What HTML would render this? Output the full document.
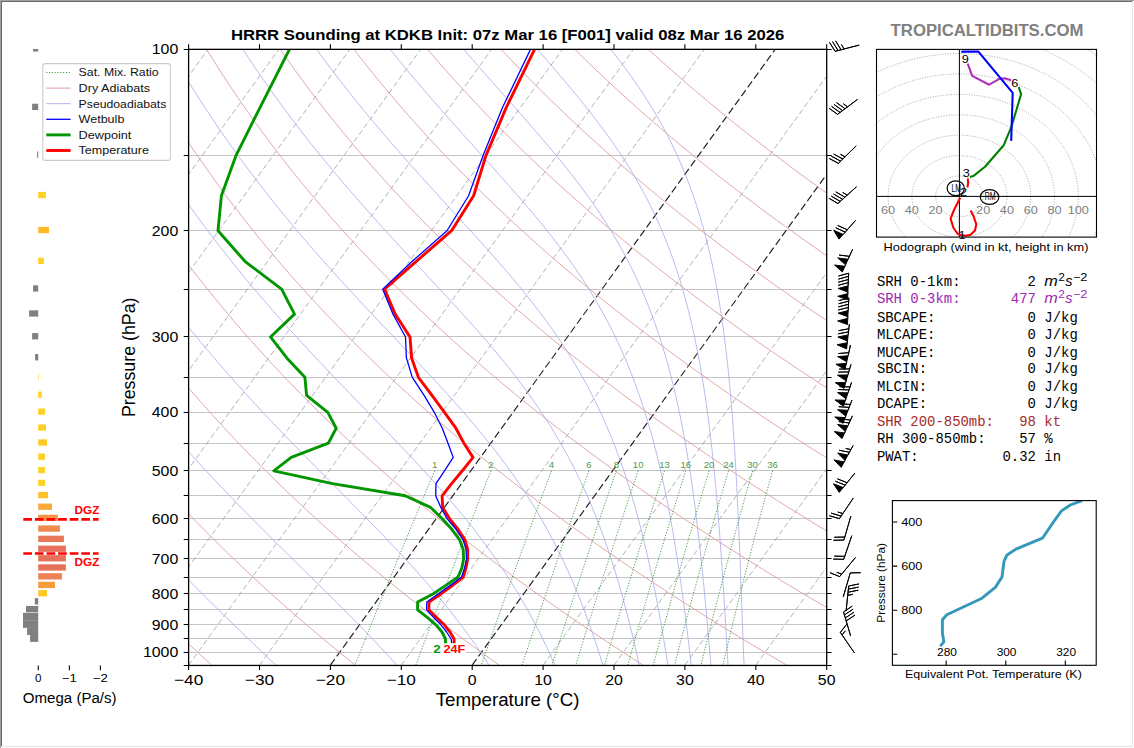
<!DOCTYPE html>
<html><head><meta charset="utf-8"><title>HRRR Sounding</title>
<style>html,body{margin:0;padding:0;background:#fff;}body{width:1134px;height:748px;overflow:hidden;}svg{display:block;}</style>
</head><body>
<svg width="1134" height="748" viewBox="0 0 1134 748">
<rect x="0" y="0" width="1134" height="748" fill="#fff"/>
<defs>
<clipPath id="cmain"><rect x="188.6" y="49.1" width="638.1" height="616.1"/></clipPath>
</defs>
<g clip-path="url(#cmain)">
<line x1="188.6" y1="155.50" x2="826.7" y2="155.50" stroke="#c4c4c4" stroke-width="1.0"/>
<line x1="188.6" y1="230.50" x2="826.7" y2="230.50" stroke="#c4c4c4" stroke-width="1.0"/>
<line x1="188.6" y1="289.50" x2="826.7" y2="289.50" stroke="#c4c4c4" stroke-width="1.0"/>
<line x1="188.6" y1="336.50" x2="826.7" y2="336.50" stroke="#c4c4c4" stroke-width="1.0"/>
<line x1="188.6" y1="377.50" x2="826.7" y2="377.50" stroke="#c4c4c4" stroke-width="1.0"/>
<line x1="188.6" y1="412.50" x2="826.7" y2="412.50" stroke="#c4c4c4" stroke-width="1.0"/>
<line x1="188.6" y1="443.50" x2="826.7" y2="443.50" stroke="#c4c4c4" stroke-width="1.0"/>
<line x1="188.6" y1="470.50" x2="826.7" y2="470.50" stroke="#c4c4c4" stroke-width="1.0"/>
<line x1="188.6" y1="495.50" x2="826.7" y2="495.50" stroke="#c4c4c4" stroke-width="1.0"/>
<line x1="188.6" y1="518.50" x2="826.7" y2="518.50" stroke="#c4c4c4" stroke-width="1.0"/>
<line x1="188.6" y1="539.50" x2="826.7" y2="539.50" stroke="#c4c4c4" stroke-width="1.0"/>
<line x1="188.6" y1="558.50" x2="826.7" y2="558.50" stroke="#c4c4c4" stroke-width="1.0"/>
<line x1="188.6" y1="577.50" x2="826.7" y2="577.50" stroke="#c4c4c4" stroke-width="1.0"/>
<line x1="188.6" y1="593.50" x2="826.7" y2="593.50" stroke="#c4c4c4" stroke-width="1.0"/>
<line x1="188.6" y1="609.50" x2="826.7" y2="609.50" stroke="#c4c4c4" stroke-width="1.0"/>
<line x1="188.6" y1="624.50" x2="826.7" y2="624.50" stroke="#c4c4c4" stroke-width="1.0"/>
<line x1="188.6" y1="638.50" x2="826.7" y2="638.50" stroke="#c4c4c4" stroke-width="1.0"/>
<line x1="188.6" y1="652.50" x2="826.7" y2="652.50" stroke="#c4c4c4" stroke-width="1.0"/>
<line x1="-591.30" y1="665.2" x2="-146.35" y2="49.1" stroke="#999999" stroke-width="0.75" stroke-dasharray="5.5 3"/>
<line x1="-520.40" y1="665.2" x2="-75.45" y2="49.1" stroke="#999999" stroke-width="0.75" stroke-dasharray="5.5 3"/>
<line x1="-449.50" y1="665.2" x2="-4.55" y2="49.1" stroke="#999999" stroke-width="0.75" stroke-dasharray="5.5 3"/>
<line x1="-378.60" y1="665.2" x2="66.35" y2="49.1" stroke="#999999" stroke-width="0.75" stroke-dasharray="5.5 3"/>
<line x1="-307.70" y1="665.2" x2="137.25" y2="49.1" stroke="#999999" stroke-width="0.75" stroke-dasharray="5.5 3"/>
<line x1="-236.80" y1="665.2" x2="208.15" y2="49.1" stroke="#999999" stroke-width="0.75" stroke-dasharray="5.5 3"/>
<line x1="-165.90" y1="665.2" x2="279.05" y2="49.1" stroke="#999999" stroke-width="0.75" stroke-dasharray="5.5 3"/>
<line x1="-95.00" y1="665.2" x2="349.95" y2="49.1" stroke="#999999" stroke-width="0.75" stroke-dasharray="5.5 3"/>
<line x1="-24.10" y1="665.2" x2="420.85" y2="49.1" stroke="#999999" stroke-width="0.75" stroke-dasharray="5.5 3"/>
<line x1="46.80" y1="665.2" x2="491.75" y2="49.1" stroke="#999999" stroke-width="0.75" stroke-dasharray="5.5 3"/>
<line x1="117.70" y1="665.2" x2="562.65" y2="49.1" stroke="#999999" stroke-width="0.75" stroke-dasharray="5.5 3"/>
<line x1="188.60" y1="665.2" x2="633.55" y2="49.1" stroke="#999999" stroke-width="0.75" stroke-dasharray="5.5 3"/>
<line x1="259.50" y1="665.2" x2="704.45" y2="49.1" stroke="#999999" stroke-width="0.75" stroke-dasharray="5.5 3"/>
<line x1="330.40" y1="665.2" x2="775.35" y2="49.1" stroke="#202020" stroke-width="1.15" stroke-dasharray="7.4 3.4"/>
<line x1="401.30" y1="665.2" x2="846.25" y2="49.1" stroke="#999999" stroke-width="0.75" stroke-dasharray="5.5 3"/>
<line x1="472.20" y1="665.2" x2="917.15" y2="49.1" stroke="#202020" stroke-width="1.15" stroke-dasharray="7.4 3.4"/>
<line x1="543.10" y1="665.2" x2="988.05" y2="49.1" stroke="#999999" stroke-width="0.75" stroke-dasharray="5.5 3"/>
<line x1="614.00" y1="665.2" x2="1058.95" y2="49.1" stroke="#999999" stroke-width="0.75" stroke-dasharray="5.5 3"/>
<line x1="684.90" y1="665.2" x2="1129.85" y2="49.1" stroke="#999999" stroke-width="0.75" stroke-dasharray="5.5 3"/>
<line x1="755.80" y1="665.2" x2="1200.75" y2="49.1" stroke="#999999" stroke-width="0.75" stroke-dasharray="5.5 3"/>
<line x1="826.70" y1="665.2" x2="1271.65" y2="49.1" stroke="#999999" stroke-width="0.75" stroke-dasharray="5.5 3"/>
<path d="M-161.50,49.10 L-159.24,59.54 L-156.88,69.98 L-154.40,80.43 L-151.81,90.87 L-149.10,101.31 L-146.28,111.75 L-143.34,122.20 L-140.27,132.64 L-137.09,143.08 L-133.79,153.52 L-130.36,163.97 L-126.80,174.41 L-123.12,184.85 L-119.31,195.29 L-115.37,205.74 L-111.30,216.18 L-107.10,226.62 L-102.76,237.06 L-98.29,247.51 L-93.68,257.95 L-88.93,268.39 L-84.04,278.83 L-79.01,289.27 L-73.84,299.72 L-68.52,310.16 L-63.05,320.60 L-57.44,331.04 L-51.67,341.49 L-45.76,351.93 L-39.68,362.37 L-33.46,372.81 L-27.08,383.26 L-20.54,393.70 L-13.83,404.14 L-6.97,414.58 L0.06,425.03 L7.26,435.47 L14.62,445.91 L22.16,456.35 L29.86,466.79 L37.74,477.24 L45.80,487.68 L54.03,498.12 L62.45,508.56 L71.04,519.01 L79.83,529.45 L88.79,539.89 L97.95,550.33 L107.29,560.78 L116.83,571.22 L126.57,581.66 L136.50,592.10 L146.63,602.55 L156.96,612.99 L167.50,623.43 L178.24,633.87 L189.19,644.32 L200.35,654.76 L211.73,665.20" fill="none" stroke="#dc9a9a" stroke-width="0.85"/>
<path d="M-87.90,49.10 L-84.80,59.54 L-81.59,69.98 L-78.25,80.43 L-74.79,90.87 L-71.21,101.31 L-67.49,111.75 L-63.65,122.20 L-59.68,132.64 L-55.58,143.08 L-51.34,153.52 L-46.97,163.97 L-42.46,174.41 L-37.82,184.85 L-33.03,195.29 L-28.11,205.74 L-23.04,216.18 L-17.83,226.62 L-12.48,237.06 L-6.97,247.51 L-1.32,257.95 L4.48,268.39 L10.44,278.83 L16.54,289.27 L22.81,299.72 L29.23,310.16 L35.81,320.60 L42.56,331.04 L49.46,341.49 L56.53,351.93 L63.77,362.37 L71.18,372.81 L78.76,383.26 L86.51,393.70 L94.43,404.14 L102.53,414.58 L110.81,425.03 L119.27,435.47 L127.91,445.91 L136.74,456.35 L145.75,466.79 L154.96,477.24 L164.35,487.68 L173.94,498.12 L183.72,508.56 L193.70,519.01 L203.88,529.45 L214.27,539.89 L224.86,550.33 L235.65,560.78 L246.65,571.22 L257.87,581.66 L269.30,592.10 L280.95,602.55 L292.81,612.99 L304.90,623.43 L317.21,633.87 L329.75,644.32 L342.52,654.76 L355.51,665.20" fill="none" stroke="#dc9a9a" stroke-width="0.85"/>
<path d="M-14.30,49.10 L-10.36,59.54 L-6.30,69.98 L-2.11,80.43 L2.23,90.87 L6.69,101.31 L11.29,111.75 L16.04,122.20 L20.92,132.64 L25.94,143.08 L31.11,153.52 L36.42,163.97 L41.88,174.41 L47.48,184.85 L53.24,195.29 L59.15,205.74 L65.21,216.18 L71.43,226.62 L77.81,237.06 L84.34,247.51 L91.03,257.95 L97.89,268.39 L104.91,278.83 L112.10,289.27 L119.46,299.72 L126.98,310.16 L134.68,320.60 L142.55,331.04 L150.60,341.49 L158.82,351.93 L167.23,362.37 L175.82,372.81 L184.59,383.26 L193.55,393.70 L202.69,404.14 L212.03,414.58 L221.56,425.03 L231.28,435.47 L241.20,445.91 L251.32,456.35 L261.65,466.79 L272.17,477.24 L282.90,487.68 L293.84,498.12 L305.00,508.56 L316.36,519.01 L327.94,529.45 L339.74,539.89 L351.76,550.33 L364.01,560.78 L376.48,571.22 L389.17,581.66 L402.10,592.10 L415.26,602.55 L428.66,612.99 L442.30,623.43 L456.18,633.87 L470.31,644.32 L484.68,654.76 L499.30,665.20" fill="none" stroke="#dc9a9a" stroke-width="0.85"/>
<path d="M59.30,49.10 L64.07,59.54 L68.99,69.98 L74.04,80.43 L79.24,90.87 L84.59,101.31 L90.08,111.75 L95.72,122.20 L101.51,132.64 L107.46,143.08 L113.55,153.52 L119.81,163.97 L126.22,174.41 L132.79,184.85 L139.52,195.29 L146.41,205.74 L153.47,216.18 L160.69,226.62 L168.09,237.06 L175.65,247.51 L183.39,257.95 L191.30,268.39 L199.39,278.83 L207.65,289.27 L216.10,299.72 L224.73,310.16 L233.54,320.60 L242.54,331.04 L251.73,341.49 L261.11,351.93 L270.68,362.37 L280.45,372.81 L290.42,383.26 L300.59,393.70 L310.95,404.14 L321.53,414.58 L332.30,425.03 L343.29,435.47 L354.49,445.91 L365.91,456.35 L377.54,466.79 L389.39,477.24 L401.46,487.68 L413.75,498.12 L426.27,508.56 L439.02,519.01 L452.00,529.45 L465.22,539.89 L478.67,550.33 L492.36,560.78 L506.30,571.22 L520.48,581.66 L534.90,592.10 L549.58,602.55 L564.51,612.99 L579.70,623.43 L595.15,633.87 L610.86,644.32 L626.84,654.76 L643.08,665.20" fill="none" stroke="#dc9a9a" stroke-width="0.85"/>
<path d="M132.90,49.10 L138.51,59.54 L144.28,69.98 L150.19,80.43 L156.26,90.87 L162.49,101.31 L168.87,111.75 L175.41,122.20 L182.11,132.64 L188.97,143.08 L196.00,153.52 L203.19,163.97 L210.56,174.41 L218.09,184.85 L225.79,195.29 L233.67,205.74 L241.73,216.18 L249.96,226.62 L258.37,237.06 L266.97,247.51 L275.75,257.95 L284.71,268.39 L293.86,278.83 L303.21,289.27 L312.75,299.72 L322.48,310.16 L332.41,320.60 L342.54,331.04 L352.87,341.49 L363.40,351.93 L374.14,362.37 L385.09,372.81 L396.25,383.26 L407.63,393.70 L419.22,404.14 L431.02,414.58 L443.05,425.03 L455.31,435.47 L467.78,445.91 L480.49,456.35 L493.43,466.79 L506.60,477.24 L520.01,487.68 L533.66,498.12 L547.55,508.56 L561.68,519.01 L576.06,529.45 L590.69,539.89 L605.58,550.33 L620.72,560.78 L636.12,571.22 L651.78,581.66 L667.71,592.10 L683.90,602.55 L700.37,612.99 L717.11,623.43 L734.12,633.87 L751.42,644.32 L769.00,654.76 L786.87,665.20" fill="none" stroke="#dc9a9a" stroke-width="0.85"/>
<path d="M206.50,49.10 L212.95,59.54 L219.57,69.98 L226.34,80.43 L233.28,90.87 L240.38,101.31 L247.65,111.75 L255.09,122.20 L262.70,132.64 L270.49,143.08 L278.45,153.52 L286.58,163.97 L294.89,174.41 L303.39,184.85 L312.07,195.29 L320.93,205.74 L329.98,216.18 L339.22,226.62 L348.65,237.06 L358.28,247.51 L368.10,257.95 L378.12,268.39 L388.34,278.83 L398.76,289.27 L409.39,299.72 L420.23,310.16 L431.27,320.60 L442.53,331.04 L454.00,341.49 L465.69,351.93 L477.60,362.37 L489.73,372.81 L502.08,383.26 L514.67,393.70 L527.48,404.14 L540.52,414.58 L553.80,425.03 L567.32,435.47 L581.07,445.91 L595.07,456.35 L609.32,466.79 L623.82,477.24 L638.56,487.68 L653.56,498.12 L668.82,508.56 L684.34,519.01 L700.12,529.45 L716.17,539.89 L732.49,550.33 L749.08,560.78 L765.94,571.22 L783.08,581.66 L800.51,592.10 L818.22,602.55 L836.22,612.99 L854.51,623.43 L873.09,633.87 L891.98,644.32 L911.16,654.76 L930.65,665.20" fill="none" stroke="#dc9a9a" stroke-width="0.85"/>
<path d="M280.10,49.10 L287.39,59.54 L294.86,69.98 L302.49,80.43 L310.30,90.87 L318.28,101.31 L326.44,111.75 L334.78,122.20 L343.30,132.64 L352.00,143.08 L360.89,153.52 L369.97,163.97 L379.23,174.41 L388.69,184.85 L398.34,195.29 L408.19,205.74 L418.24,216.18 L428.49,226.62 L438.94,237.06 L449.59,247.51 L460.46,257.95 L471.53,268.39 L482.82,278.83 L494.32,289.27 L506.04,299.72 L517.98,310.16 L530.14,320.60 L542.52,331.04 L555.14,341.49 L567.98,351.93 L581.05,362.37 L594.37,372.81 L607.92,383.26 L621.71,393.70 L635.74,404.14 L650.02,414.58 L664.55,425.03 L679.33,435.47 L694.36,445.91 L709.66,456.35 L725.21,466.79 L741.03,477.24 L757.11,487.68 L773.47,498.12 L790.10,508.56 L807.00,519.01 L824.18,529.45 L841.64,539.89 L859.39,550.33 L877.43,560.78 L895.76,571.22 L914.39,581.66 L933.31,592.10 L952.54,602.55 L972.07,612.99 L991.91,623.43 L1012.06,633.87 L1032.53,644.32 L1053.32,654.76 L1074.43,665.20" fill="none" stroke="#dc9a9a" stroke-width="0.85"/>
<path d="M353.70,49.10 L361.83,59.54 L370.15,69.98 L378.64,80.43 L387.32,90.87 L396.18,101.31 L405.23,111.75 L414.47,122.20 L423.89,132.64 L433.52,143.08 L443.34,153.52 L453.36,163.97 L463.57,174.41 L473.99,184.85 L484.62,195.29 L495.45,205.74 L506.50,216.18 L517.75,226.62 L529.22,237.06 L540.91,247.51 L552.81,257.95 L564.94,268.39 L577.29,278.83 L589.87,289.27 L602.68,299.72 L615.72,310.16 L629.00,320.60 L642.52,331.04 L656.27,341.49 L670.27,351.93 L684.51,362.37 L699.00,372.81 L713.75,383.26 L728.75,393.70 L744.00,404.14 L759.52,414.58 L775.30,425.03 L791.34,435.47 L807.66,445.91 L824.24,456.35 L841.10,466.79 L858.24,477.24 L875.67,487.68 L893.37,498.12 L911.37,508.56 L929.66,519.01 L948.24,529.45 L967.12,539.89 L986.30,550.33 L1005.79,560.78 L1025.58,571.22 L1045.69,581.66 L1066.11,592.10 L1086.86,602.55 L1107.92,612.99 L1129.31,623.43 L1151.03,633.87 L1173.09,644.32 L1195.48,654.76 L1218.22,665.20" fill="none" stroke="#dc9a9a" stroke-width="0.85"/>
<path d="M427.30,49.10 L436.27,59.54 L445.44,69.98 L454.79,80.43 L464.33,90.87 L474.08,101.31 L484.01,111.75 L494.15,122.20 L504.49,132.64 L515.03,143.08 L525.78,153.52 L536.74,163.97 L547.91,174.41 L559.30,184.85 L570.90,195.29 L582.71,205.74 L594.75,216.18 L607.01,226.62 L619.50,237.06 L632.22,247.51 L645.17,257.95 L658.35,268.39 L671.77,278.83 L685.43,289.27 L699.33,299.72 L713.47,310.16 L727.87,320.60 L742.51,331.04 L757.40,341.49 L772.56,351.93 L787.97,362.37 L803.64,372.81 L819.58,383.26 L835.79,393.70 L852.26,404.14 L869.01,414.58 L886.04,425.03 L903.35,435.47 L920.95,445.91 L938.83,456.35 L957.00,466.79 L975.46,477.24 L994.22,487.68 L1013.28,498.12 L1032.64,508.56 L1052.32,519.01 L1072.30,529.45 L1092.59,539.89 L1113.21,550.33 L1134.14,560.78 L1155.40,571.22 L1176.99,581.66 L1198.92,592.10 L1221.17,602.55 L1243.77,612.99 L1266.71,623.43 L1290.00,633.87 L1313.65,644.32 L1337.64,654.76 L1362.00,665.20" fill="none" stroke="#dc9a9a" stroke-width="0.85"/>
<path d="M500.90,49.10 L510.71,59.54 L520.73,69.98 L530.94,80.43 L541.35,90.87 L551.97,101.31 L562.80,111.75 L573.84,122.20 L585.09,132.64 L596.55,143.08 L608.23,153.52 L620.13,163.97 L632.25,174.41 L644.60,184.85 L657.17,195.29 L669.97,205.74 L683.01,216.18 L696.28,226.62 L709.79,237.06 L723.53,247.51 L737.52,257.95 L751.76,268.39 L766.25,278.83 L780.98,289.27 L795.97,299.72 L811.22,310.16 L826.73,320.60 L842.50,331.04 L858.54,341.49 L874.85,351.93 L891.42,362.37 L908.28,372.81 L925.41,383.26 L942.83,393.70 L960.53,404.14 L978.51,414.58 L996.79,425.03 L1015.36,435.47 L1034.24,445.91 L1053.41,456.35 L1072.89,466.79 L1092.67,477.24 L1112.77,487.68 L1133.19,498.12 L1153.92,508.56 L1174.97,519.01 L1196.36,529.45 L1218.07,539.89 L1240.12,550.33 L1262.50,560.78 L1285.23,571.22 L1308.30,581.66 L1331.72,592.10 L1355.49,602.55 L1379.62,612.99 L1404.12,623.43 L1428.97,633.87 L1454.20,644.32 L1479.81,654.76 L1505.79,665.20" fill="none" stroke="#dc9a9a" stroke-width="0.85"/>
<path d="M574.50,49.10 L585.15,59.54 L596.02,69.98 L607.09,80.43 L618.37,90.87 L629.87,101.31 L641.59,111.75 L653.52,122.20 L665.68,132.64 L678.07,143.08 L690.68,153.52 L703.52,163.97 L716.59,174.41 L729.90,184.85 L743.45,195.29 L757.23,205.74 L771.27,216.18 L785.54,226.62 L800.07,237.06 L814.85,247.51 L829.88,257.95 L845.17,268.39 L860.72,278.83 L876.54,289.27 L892.62,299.72 L908.97,310.16 L925.59,320.60 L942.49,331.04 L959.67,341.49 L977.13,351.93 L994.88,362.37 L1012.92,372.81 L1031.24,383.26 L1049.87,393.70 L1068.79,404.14 L1088.01,414.58 L1107.54,425.03 L1127.38,435.47 L1147.53,445.91 L1167.99,456.35 L1188.78,466.79 L1209.89,477.24 L1231.32,487.68 L1253.09,498.12 L1275.19,508.56 L1297.63,519.01 L1320.42,529.45 L1343.54,539.89 L1367.02,550.33 L1390.86,560.78 L1415.05,571.22 L1439.60,581.66 L1464.52,592.10 L1489.81,602.55 L1515.47,612.99 L1541.52,623.43 L1567.95,633.87 L1594.76,644.32 L1621.97,654.76 L1649.57,665.20" fill="none" stroke="#dc9a9a" stroke-width="0.85"/>
<path d="M648.10,49.10 L659.59,59.54 L671.31,69.98 L683.24,80.43 L695.39,90.87 L707.77,101.31 L720.37,111.75 L733.21,122.20 L746.28,132.64 L759.58,143.08 L773.12,153.52 L786.90,163.97 L800.93,174.41 L815.20,184.85 L829.72,195.29 L844.49,205.74 L859.52,216.18 L874.81,226.62 L890.35,237.06 L906.16,247.51 L922.24,257.95 L938.58,268.39 L955.20,278.83 L972.09,289.27 L989.26,299.72 L1006.72,310.16 L1024.46,320.60 L1042.49,331.04 L1060.81,341.49 L1079.42,351.93 L1098.34,362.37 L1117.55,372.81 L1137.08,383.26 L1156.91,393.70 L1177.05,404.14 L1197.51,414.58 L1218.29,425.03 L1239.39,435.47 L1260.82,445.91 L1282.58,456.35 L1304.67,466.79 L1327.10,477.24 L1349.88,487.68 L1373.00,498.12 L1396.47,508.56 L1420.29,519.01 L1444.48,529.45 L1469.02,539.89 L1493.93,550.33 L1519.21,560.78 L1544.87,571.22 L1570.90,581.66 L1597.32,592.10 L1624.13,602.55 L1651.33,612.99 L1678.92,623.43 L1706.92,633.87 L1735.32,644.32 L1764.13,654.76 L1793.36,665.20" fill="none" stroke="#dc9a9a" stroke-width="0.85"/>
<path d="M-125.25,49.10 L-122.58,59.54 L-119.80,69.98 L-116.90,80.43 L-113.88,90.87 L-110.74,101.31 L-107.48,111.75 L-104.09,122.20 L-100.58,132.64 L-96.94,143.08 L-93.18,153.52 L-89.29,163.97 L-85.26,174.41 L-81.11,184.85 L-76.82,195.29 L-72.39,205.74 L-67.83,216.18 L-63.13,226.62 L-58.30,237.06 L-53.32,247.51 L-48.19,257.95 L-42.92,268.39 L-37.51,278.83 L-31.95,289.27 L-26.24,299.72 L-20.38,310.16 L-14.36,320.60 L-8.19,331.04 L-1.86,341.49 L4.62,351.93 L11.27,362.37 L18.07,372.81 L25.04,383.26 L32.18,393.70 L39.48,404.14 L46.95,414.58 L54.59,425.03 L62.40,435.47 L70.39,445.91 L78.55,456.35 L86.89,466.79 L95.40,477.24 L104.09,487.68 L112.96,498.12 L122.01,508.56 L131.23,519.01 L140.63,529.45 L150.21,539.89 L159.95,550.33 L169.86,560.78 L179.94,571.22 L190.16,581.66 L200.53,592.10 L211.04,602.55 L221.66,612.99 L232.39,623.43 L243.20,633.87 L254.07,644.32 L264.99,654.76 L275.92,665.20" fill="none" stroke="#adadec" stroke-width="0.85"/>
<path d="M-51.65,49.10 L-48.14,59.54 L-44.51,69.98 L-40.75,80.43 L-36.86,90.87 L-32.84,101.31 L-28.69,111.75 L-24.41,122.20 L-19.99,132.64 L-15.43,143.08 L-10.73,153.52 L-5.90,163.97 L-0.92,174.41 L4.19,184.85 L9.46,195.29 L14.87,205.74 L20.42,216.18 L26.13,226.62 L31.99,237.06 L38.00,247.51 L44.16,257.95 L50.48,268.39 L56.96,278.83 L63.60,289.27 L70.40,299.72 L77.37,310.16 L84.50,320.60 L91.79,331.04 L99.26,341.49 L106.89,351.93 L114.70,362.37 L122.68,372.81 L130.83,383.26 L139.16,393.70 L147.66,404.14 L156.34,414.58 L165.19,425.03 L174.22,435.47 L183.42,445.91 L192.79,456.35 L202.33,466.79 L212.04,477.24 L221.90,487.68 L231.91,498.12 L242.05,508.56 L252.33,519.01 L262.72,529.45 L273.20,539.89 L283.75,550.33 L294.36,560.78 L305.00,571.22 L315.63,581.66 L326.23,592.10 L336.76,602.55 L347.20,612.99 L357.51,623.43 L367.66,633.87 L377.62,644.32 L387.36,654.76 L396.86,665.20" fill="none" stroke="#adadec" stroke-width="0.85"/>
<path d="M21.95,49.10 L26.30,59.54 L30.78,69.98 L35.40,80.43 L40.16,90.87 L45.06,101.31 L50.10,111.75 L55.28,122.20 L60.61,132.64 L66.09,143.08 L71.71,153.52 L77.49,163.97 L83.41,174.41 L89.50,184.85 L95.73,195.29 L102.12,205.74 L108.68,216.18 L115.39,226.62 L122.26,237.06 L129.30,247.51 L136.51,257.95 L143.88,268.39 L151.42,278.83 L159.13,289.27 L167.01,299.72 L175.07,310.16 L183.30,320.60 L191.70,331.04 L200.27,341.49 L209.02,351.93 L217.94,362.37 L227.03,372.81 L236.29,383.26 L245.71,393.70 L255.29,404.14 L265.01,414.58 L274.88,425.03 L284.88,435.47 L294.99,445.91 L305.20,456.35 L315.49,466.79 L325.83,477.24 L336.21,487.68 L346.58,498.12 L356.92,508.56 L367.20,519.01 L377.39,529.45 L387.44,539.89 L397.33,550.33 L407.02,560.78 L416.50,571.22 L425.72,581.66 L434.67,592.10 L443.35,602.55 L451.72,612.99 L459.80,623.43 L467.56,633.87 L475.03,644.32 L482.20,654.76 L489.07,665.20" fill="none" stroke="#adadec" stroke-width="0.85"/>
<path d="M95.55,49.10 L100.74,59.54 L106.07,69.98 L111.55,80.43 L117.17,90.87 L122.95,101.31 L128.88,111.75 L134.97,122.20 L141.20,132.64 L147.60,143.08 L154.15,153.52 L160.87,163.97 L167.75,174.41 L174.79,184.85 L181.99,195.29 L189.37,205.74 L196.91,216.18 L204.62,226.62 L212.50,237.06 L220.56,247.51 L228.78,257.95 L237.18,268.39 L245.75,278.83 L254.49,289.27 L263.39,299.72 L272.46,310.16 L281.70,320.60 L291.08,331.04 L300.62,341.49 L310.29,351.93 L320.09,362.37 L330.00,372.81 L340.00,383.26 L350.08,393.70 L360.20,404.14 L370.34,414.58 L380.48,425.03 L390.57,435.47 L400.59,445.91 L410.50,456.35 L420.26,466.79 L429.84,477.24 L439.21,487.68 L448.34,498.12 L457.20,508.56 L465.78,519.01 L474.07,529.45 L482.04,539.89 L489.71,550.33 L497.06,560.78 L504.09,571.22 L510.82,581.66 L517.26,592.10 L523.41,602.55 L529.28,612.99 L534.89,623.43 L540.25,633.87 L545.38,644.32 L550.28,654.76 L554.97,665.20" fill="none" stroke="#adadec" stroke-width="0.85"/>
<path d="M169.15,49.10 L175.18,59.54 L181.36,69.98 L187.69,80.43 L194.19,90.87 L200.85,101.31 L207.66,111.75 L214.64,122.20 L221.79,132.64 L229.10,143.08 L236.58,153.52 L244.22,163.97 L252.04,174.41 L260.02,184.85 L268.18,195.29 L276.51,205.74 L285.00,216.18 L293.66,226.62 L302.49,237.06 L311.48,247.51 L320.63,257.95 L329.92,268.39 L339.35,278.83 L348.91,289.27 L358.59,299.72 L368.37,310.16 L378.22,320.60 L388.12,331.04 L398.05,341.49 L407.98,351.93 L417.88,362.37 L427.70,372.81 L437.41,383.26 L446.99,393.70 L456.38,404.14 L465.56,414.58 L474.49,425.03 L483.16,435.47 L491.54,445.91 L499.62,456.35 L507.37,466.79 L514.81,477.24 L521.92,487.68 L528.72,498.12 L535.20,508.56 L541.37,519.01 L547.25,529.45 L552.85,539.89 L558.18,550.33 L563.25,560.78 L568.08,571.22 L572.69,581.66 L577.08,592.10 L581.27,602.55 L585.28,612.99 L589.10,623.43 L592.77,633.87 L596.29,644.32 L599.66,654.76 L602.90,665.20" fill="none" stroke="#adadec" stroke-width="0.85"/>
<path d="M242.75,49.10 L249.61,59.54 L256.64,69.98 L263.83,80.43 L271.19,90.87 L278.72,101.31 L286.41,111.75 L294.27,122.20 L302.30,132.64 L310.50,143.08 L318.87,153.52 L327.40,163.97 L336.09,174.41 L344.95,184.85 L353.95,195.29 L363.11,205.74 L372.40,216.18 L381.81,226.62 L391.33,237.06 L400.94,247.51 L410.63,257.95 L420.36,268.39 L430.10,278.83 L439.83,289.27 L449.51,299.72 L459.10,310.16 L468.56,320.60 L477.87,331.04 L486.98,341.49 L495.86,351.93 L504.47,362.37 L512.81,372.81 L520.83,383.26 L528.54,393.70 L535.92,404.14 L542.98,414.58 L549.70,425.03 L556.09,435.47 L562.17,445.91 L567.95,456.35 L573.43,466.79 L578.62,477.24 L583.55,487.68 L588.23,498.12 L592.67,508.56 L596.89,519.01 L600.89,529.45 L604.70,539.89 L608.33,550.33 L611.78,560.78 L615.08,571.22 L618.23,581.66 L621.24,592.10 L624.13,602.55 L626.90,612.99 L629.55,623.43 L632.11,633.87 L634.57,644.32 L636.95,654.76 L639.24,665.20" fill="none" stroke="#adadec" stroke-width="0.85"/>
<path d="M316.35,49.10 L324.04,59.54 L331.89,69.98 L339.92,80.43 L348.11,90.87 L356.46,101.31 L364.98,111.75 L373.65,122.20 L382.48,132.64 L391.46,143.08 L400.57,153.52 L409.80,163.97 L419.15,174.41 L428.58,184.85 L438.09,195.29 L447.64,205.74 L457.21,216.18 L466.77,226.62 L476.27,237.06 L485.68,247.51 L494.97,257.95 L504.09,268.39 L513.01,278.83 L521.69,289.27 L530.11,299.72 L538.23,310.16 L546.04,320.60 L553.53,331.04 L560.68,341.49 L567.49,351.93 L573.96,362.37 L580.10,372.81 L585.93,383.26 L591.43,393.70 L596.65,404.14 L601.57,414.58 L606.23,425.03 L610.63,435.47 L614.79,445.91 L618.73,456.35 L622.45,466.79 L625.98,477.24 L629.33,487.68 L632.50,498.12 L635.52,508.56 L638.39,519.01 L641.12,529.45 L643.72,539.89 L646.21,550.33 L648.59,560.78 L650.86,571.22 L653.04,581.66 L655.14,592.10 L657.15,602.55 L659.10,612.99 L660.97,623.43 L662.78,633.87 L664.54,644.32 L666.24,654.76 L667.90,665.20" fill="none" stroke="#adadec" stroke-width="0.85"/>
<path d="M389.95,49.10 L398.41,59.54 L407.02,69.98 L415.78,80.43 L424.69,90.87 L433.72,101.31 L442.86,111.75 L452.11,122.20 L461.43,132.64 L470.81,143.08 L480.22,153.52 L489.62,163.97 L498.98,174.41 L508.27,184.85 L517.43,195.29 L526.45,205.74 L535.26,216.18 L543.85,226.62 L552.17,237.06 L560.20,247.51 L567.92,257.95 L575.30,268.39 L582.35,278.83 L589.05,289.27 L595.41,299.72 L601.43,310.16 L607.12,320.60 L612.49,331.04 L617.55,341.49 L622.32,351.93 L626.81,362.37 L631.04,372.81 L635.02,383.26 L638.78,393.70 L642.31,404.14 L645.65,414.58 L648.80,425.03 L651.77,435.47 L654.58,445.91 L657.24,456.35 L659.76,466.79 L662.15,477.24 L664.41,487.68 L666.57,498.12 L668.62,508.56 L670.58,519.01 L672.45,529.45 L674.23,539.89 L675.94,550.33 L677.58,560.78 L679.16,571.22 L680.68,581.66 L682.15,592.10 L683.56,602.55 L684.93,612.99 L686.26,623.43 L687.56,633.87 L688.82,644.32 L690.05,654.76 L691.25,665.20" fill="none" stroke="#adadec" stroke-width="0.85"/>
<path d="M463.55,49.10 L472.59,59.54 L481.71,69.98 L490.91,80.43 L500.16,90.87 L509.41,101.31 L518.65,111.75 L527.84,122.20 L536.92,132.64 L545.88,143.08 L554.66,153.52 L563.22,163.97 L571.53,174.41 L579.56,184.85 L587.28,195.29 L594.67,205.74 L601.73,216.18 L608.43,226.62 L614.78,237.06 L620.78,247.51 L626.44,257.95 L631.77,268.39 L636.78,278.83 L641.49,289.27 L645.91,299.72 L650.06,310.16 L653.95,320.60 L657.60,331.04 L661.03,341.49 L664.24,351.93 L667.26,362.37 L670.09,372.81 L672.76,383.26 L675.27,393.70 L677.63,404.14 L679.86,414.58 L681.96,425.03 L683.94,435.47 L685.82,445.91 L687.59,456.35 L689.28,466.79 L690.88,477.24 L692.40,487.68 L693.85,498.12 L695.23,508.56 L696.54,519.01 L697.81,529.45 L699.02,539.89 L700.18,550.33 L701.30,560.78 L702.38,571.22 L703.43,581.66 L704.44,592.10 L705.42,602.55 L706.38,612.99 L707.32,623.43 L708.24,633.87 L709.13,644.32 L710.02,654.76 L710.89,665.20" fill="none" stroke="#adadec" stroke-width="0.85"/>
<path d="M537.15,49.10 L546.23,59.54 L555.25,69.98 L564.15,80.43 L572.91,90.87 L581.48,101.31 L589.81,111.75 L597.88,122.20 L605.66,132.64 L613.11,143.08 L620.22,153.52 L626.98,163.97 L633.39,174.41 L639.43,184.85 L645.13,195.29 L650.48,205.74 L655.51,216.18 L660.21,226.62 L664.61,237.06 L668.73,247.51 L672.58,257.95 L676.17,268.39 L679.53,278.83 L682.66,289.27 L685.59,299.72 L688.33,310.16 L690.89,320.60 L693.28,331.04 L695.52,341.49 L697.62,351.93 L699.59,362.37 L701.43,372.81 L703.16,383.26 L704.78,393.70 L706.31,404.14 L707.75,414.58 L709.10,425.03 L710.38,435.47 L711.58,445.91 L712.73,456.35 L713.81,466.79 L714.83,477.24 L715.81,487.68 L716.74,498.12 L717.63,508.56 L718.48,519.01 L719.29,529.45 L720.08,539.89 L720.83,550.33 L721.56,560.78 L722.27,571.22 L722.96,581.66 L723.63,592.10 L724.29,602.55 L724.93,612.99 L725.57,623.43 L726.20,633.87 L726.82,644.32 L727.43,654.76 L728.05,665.20" fill="none" stroke="#adadec" stroke-width="0.85"/>
<path d="M610.75,49.10 L618.80,59.54 L626.57,69.98 L634.03,80.43 L641.14,90.87 L647.91,101.31 L654.31,111.75 L660.35,122.20 L666.03,132.64 L671.35,143.08 L676.34,153.52 L680.99,163.97 L685.34,174.41 L689.38,184.85 L693.15,195.29 L696.65,205.74 L699.90,216.18 L702.93,226.62 L705.74,237.06 L708.36,247.51 L710.78,257.95 L713.04,268.39 L715.14,278.83 L717.08,289.27 L718.89,299.72 L720.58,310.16 L722.15,320.60 L723.60,331.04 L724.96,341.49 L726.22,351.93 L727.40,362.37 L728.50,372.81 L729.52,383.26 L730.48,393.70 L731.37,404.14 L732.21,414.58 L732.99,425.03 L733.73,435.47 L734.42,445.91 L735.07,456.35 L735.69,466.79 L736.27,477.24 L736.82,487.68 L737.34,498.12 L737.85,508.56 L738.32,519.01 L738.78,529.45 L739.23,539.89 L739.66,550.33 L740.08,560.78 L740.48,571.22 L740.88,581.66 L741.28,592.10 L741.67,602.55 L742.06,612.99 L742.44,623.43 L742.83,633.87 L743.22,644.32 L743.62,654.76 L744.02,665.20" fill="none" stroke="#adadec" stroke-width="0.85"/>
<path d="M434.69,470.80 L428.47,485.55 L422.61,499.51 L417.07,512.76 L411.82,525.38 L406.82,537.41 L402.06,548.92 L397.52,559.94 L393.17,570.52 L389.01,580.69 L385.01,590.48 L381.17,599.91 L377.47,609.02 L373.91,617.82 L370.47,626.34 L367.15,634.58 L363.93,642.58 L360.82,650.34 L357.81,657.88 L354.89,665.20" fill="none" stroke="#3c963c" stroke-width="1.0" stroke-dasharray="1.1 1.7"/>
<path d="M491.02,470.80 L485.14,485.55 L479.59,499.51 L474.35,512.76 L469.39,525.38 L464.67,537.41 L460.18,548.92 L455.89,559.94 L451.79,570.52 L447.87,580.69 L444.10,590.48 L440.49,599.91 L437.01,609.02 L433.66,617.82 L430.43,626.34 L427.31,634.58 L424.29,642.58 L421.37,650.34 L418.55,657.88 L415.81,665.20" fill="none" stroke="#3c963c" stroke-width="1.0" stroke-dasharray="1.1 1.7"/>
<path d="M551.47,470.80 L545.95,485.55 L540.75,499.51 L535.85,512.76 L531.20,525.38 L526.79,537.41 L522.60,548.92 L518.60,559.94 L514.78,570.52 L511.12,580.69 L507.62,590.48 L504.25,599.91 L501.02,609.02 L497.91,617.82 L494.91,626.34 L492.01,634.58 L489.22,642.58 L486.51,650.34 L483.90,657.88 L481.36,665.20" fill="none" stroke="#3c963c" stroke-width="1.0" stroke-dasharray="1.1 1.7"/>
<path d="M588.86,470.80 L583.57,485.55 L578.60,499.51 L573.91,512.76 L569.47,525.38 L565.26,537.41 L561.25,548.92 L557.44,559.94 L553.79,570.52 L550.31,580.69 L546.97,590.48 L543.77,599.91 L540.69,609.02 L537.73,617.82 L534.87,626.34 L532.12,634.58 L529.47,642.58 L526.90,650.34 L524.42,657.88 L522.02,665.20" fill="none" stroke="#3c963c" stroke-width="1.0" stroke-dasharray="1.1 1.7"/>
<path d="M616.33,470.80 L611.22,485.55 L606.42,499.51 L601.88,512.76 L597.60,525.38 L593.53,537.41 L589.67,548.92 L585.99,559.94 L582.48,570.52 L579.12,580.69 L575.91,590.48 L572.83,599.91 L569.87,609.02 L567.02,617.82 L564.28,626.34 L561.64,634.58 L559.09,642.58 L556.62,650.34 L554.24,657.88 L551.94,665.20" fill="none" stroke="#3c963c" stroke-width="1.0" stroke-dasharray="1.1 1.7"/>
<path d="M638.19,470.80 L633.22,485.55 L628.55,499.51 L624.15,512.76 L619.99,525.38 L616.04,537.41 L612.29,548.92 L608.72,559.94 L605.32,570.52 L602.07,580.69 L598.95,590.48 L595.97,599.91 L593.10,609.02 L590.35,617.82 L587.70,626.34 L585.14,634.58 L582.68,642.58 L580.30,650.34 L578.00,657.88 L575.77,665.20" fill="none" stroke="#3c963c" stroke-width="1.0" stroke-dasharray="1.1 1.7"/>
<path d="M664.50,470.80 L659.70,485.55 L655.20,499.51 L650.95,512.76 L646.94,525.38 L643.14,537.41 L639.54,548.92 L636.10,559.94 L632.83,570.52 L629.71,580.69 L626.71,590.48 L623.85,599.91 L621.10,609.02 L618.46,617.82 L615.92,626.34 L613.47,634.58 L611.11,642.58 L608.83,650.34 L606.63,657.88 L604.50,665.20" fill="none" stroke="#3c963c" stroke-width="1.0" stroke-dasharray="1.1 1.7"/>
<path d="M685.79,470.80 L681.13,485.55 L676.76,499.51 L672.65,512.76 L668.76,525.38 L665.08,537.41 L661.59,548.92 L658.27,559.94 L655.10,570.52 L652.08,580.69 L649.19,590.48 L646.42,599.91 L643.77,609.02 L641.22,617.82 L638.77,626.34 L636.41,634.58 L634.13,642.58 L631.94,650.34 L629.82,657.88 L627.77,665.20" fill="none" stroke="#3c963c" stroke-width="1.0" stroke-dasharray="1.1 1.7"/>
<path d="M709.11,470.80 L704.62,485.55 L700.40,499.51 L696.42,512.76 L692.67,525.38 L689.13,537.41 L685.76,548.92 L682.56,559.94 L679.52,570.52 L676.61,580.69 L673.83,590.48 L671.18,599.91 L668.63,609.02 L666.18,617.82 L663.83,626.34 L661.56,634.58 L659.38,642.58 L657.28,650.34 L655.25,657.88 L653.29,665.20" fill="none" stroke="#3c963c" stroke-width="1.0" stroke-dasharray="1.1 1.7"/>
<path d="M728.50,470.80 L724.14,485.55 L720.04,499.51 L716.19,512.76 L712.56,525.38 L709.12,537.41 L705.86,548.92 L702.77,559.94 L699.82,570.52 L697.02,580.69 L694.33,590.48 L691.76,599.91 L689.30,609.02 L686.94,617.82 L684.68,626.34 L682.49,634.58 L680.39,642.58 L678.37,650.34 L676.42,657.88 L674.53,665.20" fill="none" stroke="#3c963c" stroke-width="1.0" stroke-dasharray="1.1 1.7"/>
<path d="M752.61,470.80 L748.41,485.55 L744.48,499.51 L740.78,512.76 L737.29,525.38 L733.99,537.41 L730.87,548.92 L727.91,559.94 L725.09,570.52 L722.40,580.69 L719.84,590.48 L717.39,599.91 L715.04,609.02 L712.79,617.82 L710.63,626.34 L708.55,634.58 L706.55,642.58 L704.62,650.34 L702.76,657.88 L700.97,665.20" fill="none" stroke="#3c963c" stroke-width="1.0" stroke-dasharray="1.1 1.7"/>
<path d="M772.60,470.80 L768.54,485.55 L764.73,499.51 L761.16,512.76 L757.80,525.38 L754.62,537.41 L751.61,548.92 L748.76,559.94 L746.05,570.52 L743.46,580.69 L741.00,590.48 L738.64,599.91 L736.39,609.02 L734.23,617.82 L732.15,626.34 L730.16,634.58 L728.25,642.58 L726.40,650.34 L724.63,657.88 L722.91,665.20" fill="none" stroke="#3c963c" stroke-width="1.0" stroke-dasharray="1.1 1.7"/>
</g>
<text x="434.69" y="468.20" font-family='"Liberation Sans", sans-serif' font-size="8.83" fill="#4a9a4a" text-anchor="middle" textLength="5.30" lengthAdjust="spacingAndGlyphs" >1</text>
<text x="491.02" y="468.20" font-family='"Liberation Sans", sans-serif' font-size="8.83" fill="#4a9a4a" text-anchor="middle" textLength="5.30" lengthAdjust="spacingAndGlyphs" >2</text>
<text x="551.47" y="468.20" font-family='"Liberation Sans", sans-serif' font-size="8.83" fill="#4a9a4a" text-anchor="middle" textLength="5.30" lengthAdjust="spacingAndGlyphs" >4</text>
<text x="588.86" y="468.20" font-family='"Liberation Sans", sans-serif' font-size="8.83" fill="#4a9a4a" text-anchor="middle" textLength="5.30" lengthAdjust="spacingAndGlyphs" >6</text>
<text x="616.33" y="468.20" font-family='"Liberation Sans", sans-serif' font-size="8.83" fill="#4a9a4a" text-anchor="middle" textLength="5.30" lengthAdjust="spacingAndGlyphs" >8</text>
<text x="638.19" y="468.20" font-family='"Liberation Sans", sans-serif' font-size="8.83" fill="#4a9a4a" text-anchor="middle" textLength="10.60" lengthAdjust="spacingAndGlyphs" >10</text>
<text x="664.50" y="468.20" font-family='"Liberation Sans", sans-serif' font-size="8.83" fill="#4a9a4a" text-anchor="middle" textLength="10.60" lengthAdjust="spacingAndGlyphs" >13</text>
<text x="685.79" y="468.20" font-family='"Liberation Sans", sans-serif' font-size="8.83" fill="#4a9a4a" text-anchor="middle" textLength="10.60" lengthAdjust="spacingAndGlyphs" >16</text>
<text x="709.11" y="468.20" font-family='"Liberation Sans", sans-serif' font-size="8.83" fill="#4a9a4a" text-anchor="middle" textLength="10.60" lengthAdjust="spacingAndGlyphs" >20</text>
<text x="728.50" y="468.20" font-family='"Liberation Sans", sans-serif' font-size="8.83" fill="#4a9a4a" text-anchor="middle" textLength="10.60" lengthAdjust="spacingAndGlyphs" >24</text>
<text x="752.61" y="468.20" font-family='"Liberation Sans", sans-serif' font-size="8.83" fill="#4a9a4a" text-anchor="middle" textLength="10.60" lengthAdjust="spacingAndGlyphs" >30</text>
<text x="772.60" y="468.20" font-family='"Liberation Sans", sans-serif' font-size="8.83" fill="#4a9a4a" text-anchor="middle" textLength="10.60" lengthAdjust="spacingAndGlyphs" >36</text>
<g clip-path="url(#cmain)" fill="none" stroke-linejoin="round" stroke-linecap="butt">
<path d="M289.60,49.10 L260.00,107.57 L236.10,155.34 L221.40,195.73 L218.00,230.72 L245.20,261.58 L281.60,289.18 L294.50,314.16 L270.50,336.95 L286.80,357.93 L304.90,377.35 L306.60,395.42 L327.80,412.33 L336.20,428.22 L328.40,443.19 L291.20,457.36 L273.80,470.80 L332.50,483.58 L405.20,495.77 L430.60,507.42 L442.00,518.57 L451.80,529.27 L459.50,539.54 L463.20,549.43 L463.60,558.96 L461.80,568.16 L458.00,577.04 L445.50,585.63 L433.00,593.95 L417.60,602.01 L417.60,609.83 L427.30,617.43 L435.90,624.81 L442.00,631.99 L445.50,638.98 L445.50,643.20" stroke="#009600" stroke-width="2.9"/>
<path d="M534.70,49.10 L506.20,107.57 L486.00,155.34 L473.60,195.73 L451.60,230.72 L416.00,261.58 L384.50,289.18 L395.20,314.16 L410.00,336.95 L411.60,357.93 L418.40,377.35 L432.00,395.42 L444.50,412.33 L455.90,428.22 L463.90,443.19 L473.00,457.36 L462.30,470.80 L451.60,483.58 L442.10,495.77 L442.70,507.42 L449.50,518.57 L458.00,529.27 L464.80,539.54 L467.70,549.43 L467.70,558.96 L465.90,568.16 L463.20,577.04 L452.30,585.63 L440.90,593.95 L429.00,602.01 L428.90,609.83 L436.40,617.43 L444.30,624.81 L450.00,631.99 L454.10,638.98 L454.10,643.20" stroke="#ff0000" stroke-width="2.9"/>
<path d="M530.60,49.10 L502.50,107.57 L483.20,155.34 L468.60,195.73 L447.00,230.72 L412.00,261.58 L382.70,289.18 L393.00,314.16 L405.50,336.95 L406.40,357.93 L412.30,377.35 L424.10,395.42 L434.30,412.33 L442.30,428.22 L448.00,443.19 L453.20,457.36 L444.50,470.80 L436.00,483.58 L435.70,495.77 L440.90,507.42 L447.00,518.57 L456.00,529.27 L463.00,539.54 L466.00,549.43 L466.50,558.96 L464.50,568.16 L461.50,577.04 L450.00,585.63 L438.00,593.95 L426.80,602.01 L426.60,609.83 L433.60,617.43 L440.90,624.81 L446.60,631.99 L451.10,638.98 L451.80,643.20" stroke="#0000ff" stroke-width="1.3"/>
</g>
<rect x="432.6" y="644.2" width="33.4" height="10.2" fill="#fff"/>
<text x="433.30" y="653.40" font-family='"Liberation Sans", sans-serif' font-size="11.13" fill="#009600" font-weight="bold" textLength="7.31" lengthAdjust="spacingAndGlyphs" >2</text>
<text x="443.50" y="653.40" font-family='"Liberation Sans", sans-serif' font-size="11.13" fill="#ff0000" font-weight="bold" textLength="21.78" lengthAdjust="spacingAndGlyphs" >24F</text>
<rect x="188.6" y="49.35" width="638.1" height="616.1" fill="none" stroke="#000" stroke-width="1.3"/>
<path d="M183.70,49.50 H188.60 M826.70,49.50 H831.60 M183.70,155.50 H188.60 M826.70,155.50 H831.60 M183.70,230.50 H188.60 M826.70,230.50 H831.60 M183.70,289.50 H188.60 M826.70,289.50 H831.60 M183.70,336.50 H188.60 M826.70,336.50 H831.60 M183.70,377.50 H188.60 M826.70,377.50 H831.60 M183.70,412.50 H188.60 M826.70,412.50 H831.60 M183.70,443.50 H188.60 M826.70,443.50 H831.60 M183.70,470.50 H188.60 M826.70,470.50 H831.60 M183.70,495.50 H188.60 M826.70,495.50 H831.60 M183.70,518.50 H188.60 M826.70,518.50 H831.60 M183.70,539.50 H188.60 M826.70,539.50 H831.60 M183.70,558.50 H188.60 M826.70,558.50 H831.60 M183.70,577.50 H188.60 M826.70,577.50 H831.60 M183.70,593.50 H188.60 M826.70,593.50 H831.60 M183.70,609.50 H188.60 M826.70,609.50 H831.60 M183.70,624.50 H188.60 M826.70,624.50 H831.60 M183.70,638.50 H188.60 M826.70,638.50 H831.60 M183.70,652.50 H188.60 M826.70,652.50 H831.60 M183.70,665.50 H188.60 M826.70,665.50 H831.60 M188.60,665.20 V670.10 M188.60,49.10 V44.20 M259.50,665.20 V670.10 M259.50,49.10 V44.20 M330.40,665.20 V670.10 M330.40,49.10 V44.20 M401.30,665.20 V670.10 M401.30,49.10 V44.20 M472.20,665.20 V670.10 M472.20,49.10 V44.20 M543.10,665.20 V670.10 M543.10,49.10 V44.20 M614.00,665.20 V670.10 M614.00,49.10 V44.20 M684.90,665.20 V670.10 M684.90,49.10 V44.20 M755.80,665.20 V670.10 M755.80,49.10 V44.20 M826.70,665.20 V670.10 M826.70,49.10 V44.20" stroke="#000" stroke-width="1.1" fill="none"/>
<text x="178.30" y="54.15" font-family='"Liberation Sans", sans-serif' font-size="14.72" fill="#000" text-anchor="end" textLength="26.51" lengthAdjust="spacingAndGlyphs" >100</text>
<text x="178.30" y="235.77" font-family='"Liberation Sans", sans-serif' font-size="14.72" fill="#000" text-anchor="end" textLength="26.51" lengthAdjust="spacingAndGlyphs" >200</text>
<text x="178.30" y="342.00" font-family='"Liberation Sans", sans-serif' font-size="14.72" fill="#000" text-anchor="end" textLength="26.51" lengthAdjust="spacingAndGlyphs" >300</text>
<text x="178.30" y="417.38" font-family='"Liberation Sans", sans-serif' font-size="14.72" fill="#000" text-anchor="end" textLength="26.51" lengthAdjust="spacingAndGlyphs" >400</text>
<text x="178.30" y="475.85" font-family='"Liberation Sans", sans-serif' font-size="14.72" fill="#000" text-anchor="end" textLength="26.51" lengthAdjust="spacingAndGlyphs" >500</text>
<text x="178.30" y="523.62" font-family='"Liberation Sans", sans-serif' font-size="14.72" fill="#000" text-anchor="end" textLength="26.51" lengthAdjust="spacingAndGlyphs" >600</text>
<text x="178.30" y="564.01" font-family='"Liberation Sans", sans-serif' font-size="14.72" fill="#000" text-anchor="end" textLength="26.51" lengthAdjust="spacingAndGlyphs" >700</text>
<text x="178.30" y="599.00" font-family='"Liberation Sans", sans-serif' font-size="14.72" fill="#000" text-anchor="end" textLength="26.51" lengthAdjust="spacingAndGlyphs" >800</text>
<text x="178.30" y="629.86" font-family='"Liberation Sans", sans-serif' font-size="14.72" fill="#000" text-anchor="end" textLength="26.51" lengthAdjust="spacingAndGlyphs" >900</text>
<text x="178.30" y="657.47" font-family='"Liberation Sans", sans-serif' font-size="14.72" fill="#000" text-anchor="end" textLength="35.35" lengthAdjust="spacingAndGlyphs" >1000</text>
<text x="188.60" y="685.00" font-family='"Liberation Sans", sans-serif' font-size="14.72" fill="#000" text-anchor="middle" textLength="29.31" lengthAdjust="spacingAndGlyphs" >−40</text>
<text x="259.50" y="685.00" font-family='"Liberation Sans", sans-serif' font-size="14.72" fill="#000" text-anchor="middle" textLength="29.31" lengthAdjust="spacingAndGlyphs" >−30</text>
<text x="330.40" y="685.00" font-family='"Liberation Sans", sans-serif' font-size="14.72" fill="#000" text-anchor="middle" textLength="29.31" lengthAdjust="spacingAndGlyphs" >−20</text>
<text x="401.30" y="685.00" font-family='"Liberation Sans", sans-serif' font-size="14.72" fill="#000" text-anchor="middle" textLength="29.31" lengthAdjust="spacingAndGlyphs" >−10</text>
<text x="472.20" y="685.00" font-family='"Liberation Sans", sans-serif' font-size="14.72" fill="#000" text-anchor="middle" textLength="8.84" lengthAdjust="spacingAndGlyphs" >0</text>
<text x="543.10" y="685.00" font-family='"Liberation Sans", sans-serif' font-size="14.72" fill="#000" text-anchor="middle" textLength="17.67" lengthAdjust="spacingAndGlyphs" >10</text>
<text x="614.00" y="685.00" font-family='"Liberation Sans", sans-serif' font-size="14.72" fill="#000" text-anchor="middle" textLength="17.67" lengthAdjust="spacingAndGlyphs" >20</text>
<text x="684.90" y="685.00" font-family='"Liberation Sans", sans-serif' font-size="14.72" fill="#000" text-anchor="middle" textLength="17.67" lengthAdjust="spacingAndGlyphs" >30</text>
<text x="755.80" y="685.00" font-family='"Liberation Sans", sans-serif' font-size="14.72" fill="#000" text-anchor="middle" textLength="17.67" lengthAdjust="spacingAndGlyphs" >40</text>
<text x="826.70" y="685.00" font-family='"Liberation Sans", sans-serif' font-size="14.72" fill="#000" text-anchor="middle" textLength="17.67" lengthAdjust="spacingAndGlyphs" >50</text>
<text x="507.65" y="706.00" font-family='"Liberation Sans", sans-serif' font-size="17.66" fill="#000" text-anchor="middle" textLength="143.88" lengthAdjust="spacingAndGlyphs" >Temperature (°C)</text>
<text x="134.60" y="357.30" font-family='"Liberation Sans", sans-serif' font-size="17.66" fill="#000" text-anchor="middle" textLength="119.57" lengthAdjust="spacingAndGlyphs" transform="rotate(-90 134.60 357.30)" >Pressure (hPa)</text>
<text x="507.65" y="39.70" font-family='"Liberation Sans", sans-serif' font-size="14.72" fill="#000" font-weight="bold" text-anchor="middle" textLength="553.41" lengthAdjust="spacingAndGlyphs" >HRRR Sounding at KDKB Init: 07z Mar 16 [F001] valid 08z Mar 16 2026</text>
<rect x="0" y="0" width="1134" height="1" fill="#a0a0a0"/>
<rect x="0" y="0" width="1" height="748" fill="#a0a0a0"/>
<rect x="1" y="1" width="1132" height="1" fill="#696969"/>
<rect x="1" y="1" width="1" height="746" fill="#696969"/>
<rect x="1132" y="1" width="1" height="746" fill="#e3e3e3"/>
<rect x="1" y="746" width="1132" height="1" fill="#e3e3e3"/>
<clipPath id="comega"><rect x="0" y="49.1" width="180" height="616.1"/></clipPath>
<g clip-path="url(#comega)">
<rect x="33.00" y="45.25" width="5.20" height="6.3" fill="#808080"/>
<rect x="32.10" y="103.72" width="6.10" height="6.3" fill="#808080"/>
<rect x="37.10" y="151.49" width="1.10" height="6.3" fill="#808080"/>
<rect x="38.20" y="191.88" width="7.70" height="6.3" fill="rgb(254,208,38)"/>
<rect x="38.20" y="226.87" width="10.80" height="6.3" fill="rgb(254,184,42)"/>
<rect x="38.20" y="257.73" width="5.70" height="6.3" fill="rgb(254,210,37)"/>
<rect x="33.10" y="285.33" width="5.10" height="6.3" fill="#808080"/>
<rect x="29.10" y="310.31" width="9.10" height="6.3" fill="#808080"/>
<rect x="32.10" y="333.10" width="6.10" height="6.3" fill="#808080"/>
<rect x="35.10" y="354.08" width="3.10" height="6.3" fill="#808080"/>
<rect x="38.20" y="373.50" width="0.60" height="6.3" fill="rgb(254,214,36)"/>
<rect x="38.20" y="391.57" width="3.70" height="6.3" fill="rgb(254,211,37)"/>
<rect x="38.20" y="408.48" width="6.80" height="6.3" fill="rgb(254,209,38)"/>
<rect x="38.20" y="424.37" width="7.80" height="6.3" fill="rgb(254,208,38)"/>
<rect x="38.20" y="439.34" width="8.80" height="6.3" fill="rgb(254,201,39)"/>
<rect x="38.20" y="453.51" width="6.80" height="6.3" fill="rgb(254,209,38)"/>
<rect x="38.20" y="466.95" width="6.80" height="6.3" fill="rgb(254,209,38)"/>
<rect x="38.20" y="479.73" width="6.80" height="6.3" fill="rgb(254,209,38)"/>
<rect x="38.20" y="491.92" width="9.90" height="6.3" fill="rgb(254,192,41)"/>
<rect x="38.20" y="503.57" width="13.80" height="6.3" fill="rgb(249,170,57)"/>
<rect x="38.20" y="514.72" width="19.60" height="6.3" fill="rgb(244,145,66)"/>
<rect x="38.20" y="525.42" width="21.70" height="6.3" fill="rgb(240,139,78)"/>
<rect x="38.20" y="535.69" width="25.70" height="6.3" fill="rgb(233,120,89)"/>
<rect x="38.20" y="545.58" width="27.70" height="6.3" fill="rgb(229,113,90)"/>
<rect x="38.20" y="555.11" width="27.70" height="6.3" fill="rgb(229,113,90)"/>
<rect x="38.20" y="564.31" width="27.70" height="6.3" fill="rgb(229,113,90)"/>
<rect x="38.20" y="573.19" width="23.70" height="6.3" fill="rgb(237,130,82)"/>
<rect x="38.20" y="581.78" width="16.80" height="6.3" fill="rgb(247,155,56)"/>
<rect x="38.20" y="590.10" width="8.80" height="6.3" fill="rgb(254,201,39)"/>
<rect x="34.80" y="598.16" width="3.40" height="6.3" fill="#808080"/>
<rect x="26.00" y="605.98" width="12.20" height="6.3" fill="#808080"/>
<rect x="23.00" y="612.84" width="15.20" height="7.786705794471618" fill="#808080"/>
<rect x="23.00" y="620.32" width="15.20" height="7.578714613598367" fill="#808080"/>
<rect x="27.10" y="627.60" width="11.10" height="7.381968310870593" fill="#808080"/>
<rect x="30.10" y="634.68" width="8.10" height="7.1955789191612665" fill="#808080"/>
</g>
<line x1="23.3" y1="519.4" x2="98.6" y2="519.4" stroke="#ff0000" stroke-width="2.6" stroke-dasharray="8.7 2.9"/>
<line x1="23.3" y1="553.5" x2="98.6" y2="553.5" stroke="#ff0000" stroke-width="2.6" stroke-dasharray="8.7 2.9"/>
<text x="74.50" y="514.20" font-family='"Liberation Sans", sans-serif' font-size="11.13" fill="#ff0000" font-weight="bold" textLength="24.95" lengthAdjust="spacingAndGlyphs" >DGZ</text>
<text x="74.50" y="566.00" font-family='"Liberation Sans", sans-serif' font-size="11.13" fill="#ff0000" font-weight="bold" textLength="24.95" lengthAdjust="spacingAndGlyphs" >DGZ</text>
<text x="38.30" y="681.60" font-family='"Liberation Sans", sans-serif' font-size="10.81" fill="#000" text-anchor="middle" textLength="6.49" lengthAdjust="spacingAndGlyphs" >0</text>
<text x="69.35" y="681.60" font-family='"Liberation Sans", sans-serif' font-size="10.81" fill="#000" text-anchor="middle" textLength="15.04" lengthAdjust="spacingAndGlyphs" >−1</text>
<text x="100.40" y="681.60" font-family='"Liberation Sans", sans-serif' font-size="10.81" fill="#000" text-anchor="middle" textLength="15.04" lengthAdjust="spacingAndGlyphs" >−2</text>
<path d="M38.3,665.45 V670.3 M69.35,665.45 V670.3 M100.4,665.45 V670.3" stroke="#000" stroke-width="1.1"/>
<text x="69.70" y="702.60" font-family='"Liberation Sans", sans-serif' font-size="14.72" fill="#000" text-anchor="middle" textLength="93.77" lengthAdjust="spacingAndGlyphs" >Omega (Pa/s)</text>
<rect x="42.8" y="63.6" width="127.6" height="96.8" rx="2.5" ry="2.5" fill="#fff" fill-opacity="0.8" stroke="#cccccc" stroke-width="1.1"/>
<line x1="46.3" y1="72.50" x2="70.6" y2="72.50" stroke="#3c963c" stroke-width="1.0" stroke-dasharray="1.1 1.7"/>
<text x="78.60" y="76.40" font-family='"Liberation Sans", sans-serif' font-size="11.77" fill="#111" textLength="80.11" lengthAdjust="spacingAndGlyphs" >Sat. Mix. Ratio</text>
<line x1="46.3" y1="88.10" x2="70.6" y2="88.10" stroke="#d89090" stroke-width="0.9"/>
<text x="78.60" y="92.00" font-family='"Liberation Sans", sans-serif' font-size="11.77" fill="#111" textLength="71.59" lengthAdjust="spacingAndGlyphs" >Dry Adiabats</text>
<line x1="46.3" y1="103.70" x2="70.6" y2="103.70" stroke="#a8a8e8" stroke-width="0.9"/>
<text x="78.60" y="107.60" font-family='"Liberation Sans", sans-serif' font-size="11.77" fill="#111" textLength="87.78" lengthAdjust="spacingAndGlyphs" >Pseudoadiabats</text>
<line x1="46.3" y1="119.30" x2="70.6" y2="119.30" stroke="#0000ff" stroke-width="1.3"/>
<text x="78.60" y="123.20" font-family='"Liberation Sans", sans-serif' font-size="11.77" fill="#111" textLength="45.76" lengthAdjust="spacingAndGlyphs" >Wetbulb</text>
<line x1="46.3" y1="134.90" x2="70.6" y2="134.90" stroke="#009600" stroke-width="2.9"/>
<text x="78.60" y="138.80" font-family='"Liberation Sans", sans-serif' font-size="11.77" fill="#111" textLength="52.81" lengthAdjust="spacingAndGlyphs" >Dewpoint</text>
<line x1="46.3" y1="150.50" x2="70.6" y2="150.50" stroke="#ff0000" stroke-width="2.9"/>
<text x="78.60" y="154.40" font-family='"Liberation Sans", sans-serif' font-size="11.77" fill="#111" textLength="70.38" lengthAdjust="spacingAndGlyphs" >Temperature</text>
<g fill="#000" stroke="#000" stroke-width="0.95" stroke-linejoin="miter">
<path d="M859.26,45.09 L835.04,51.31 L829.53,42.41 L835.04,51.31 L838.07,50.54 L832.55,41.63 L838.07,50.54 L841.10,49.76 L835.58,40.85 L841.10,49.76 L844.12,48.98 L841.36,44.53 L844.12,48.98 Z"/>
<path d="M857.56,99.36 L837.54,114.34 L829.05,108.21 L837.54,114.34 L840.05,112.47 L831.55,106.34 L840.05,112.47 L842.55,110.60 L834.05,104.46 L842.55,110.60 L845.05,108.72 L836.55,102.59 L845.05,108.72 L847.55,106.85 L843.30,103.78 L847.55,106.85 Z"/>
<path d="M856.24,145.86 L838.36,163.34 L829.14,158.37 L838.36,163.34 L840.60,161.15 L831.37,156.18 L840.60,161.15 L842.83,158.97 L833.61,154.00 L842.83,158.97 L845.07,156.78 L840.45,154.30 L845.07,156.78 Z"/>
<path d="M856.50,186.79 L837.90,203.51 L828.89,198.16 L837.90,203.51 L840.23,201.42 L831.22,196.07 L840.23,201.42 L842.55,199.33 L833.54,193.98 L842.55,199.33 L844.88,197.24 L835.87,191.89 L844.88,197.24 L847.20,195.15 L842.70,192.48 L847.20,195.15 Z"/>
<path d="M855.59,220.39 L839.01,239.11 L833.60,230.14 L843.16,234.43 L845.23,232.09 L835.67,227.80 L845.23,232.09 L847.30,229.75 L837.74,225.46 L847.30,229.75 Z"/>
<path d="M852.65,249.21 L842.35,271.99 L834.53,265.02 L844.92,266.29 L845.57,264.87 L837.74,257.90 L848.14,259.18 L849.43,256.33 L839.03,255.06 L849.43,256.33 Z"/>
<path d="M848.58,274.81 L847.62,299.79 L837.75,296.28 L847.86,293.55 L847.92,291.98 L838.05,288.48 L848.16,285.74 L848.28,282.62 L838.17,285.35 L848.28,282.62 L848.40,279.49 L838.29,282.23 L848.40,279.49 L848.52,276.37 L838.41,279.11 L848.52,276.37 L848.64,273.25 L838.53,275.99 L848.64,273.25 Z"/>
<path d="M848.77,299.62 L847.43,324.58 L837.61,320.93 L847.77,318.34 L847.85,316.78 L838.03,313.13 L848.18,310.54 L848.35,307.42 L838.20,310.01 L848.35,307.42 L848.52,304.30 L838.36,306.89 L848.52,304.30 L848.68,301.18 L838.53,303.77 L848.68,301.18 L848.85,298.06 L838.70,300.64 L848.85,298.06 Z"/>
<path d="M849.39,324.08 L846.61,348.92 L837.02,344.70 L847.30,342.71 L847.48,341.16 L837.89,336.94 L848.17,334.95 L848.52,331.84 L838.24,333.83 L848.52,331.84 L848.87,328.74 L838.58,330.73 L848.87,328.74 Z"/>
<path d="M850.49,345.05 L845.01,369.45 L835.94,364.21 L846.38,363.35 L846.72,361.82 L837.65,356.58 L848.09,355.73 L848.78,352.68 L838.34,353.54 L848.78,352.68 Z"/>
<path d="M850.97,364.39 L844.03,388.41 L835.29,382.63 L845.76,382.40 L846.20,380.90 L837.46,375.12 L847.93,374.90 L848.80,371.90 L838.33,372.12 L848.80,371.90 L849.67,368.90 L839.20,369.12 L849.67,368.90 Z"/>
<path d="M851.54,382.47 L843.46,406.13 L835.00,399.94 L845.48,400.21 L845.98,398.74 L837.53,392.54 L848.01,392.82 L849.02,389.86 L838.54,389.59 L849.02,389.86 L850.03,386.91 L839.55,386.63 L850.03,386.91 Z"/>
<path d="M851.97,400.08 L843.03,423.42 L834.81,416.93 L845.26,417.59 L845.82,416.13 L837.60,409.63 L848.06,410.29 L849.18,407.37 L838.72,406.71 L849.18,407.37 L850.29,404.45 L839.84,403.80 L850.29,404.45 Z"/>
<path d="M852.44,415.83 L842.06,438.57 L834.26,431.58 L844.65,432.89 L845.30,431.46 L837.50,424.47 L847.90,425.78 L849.20,422.94 L838.80,421.63 L849.20,422.94 L850.49,420.09 L840.10,418.78 L850.49,420.09 Z"/>
<path d="M853.16,445.41 L841.24,467.39 L833.94,459.88 L844.22,461.89 L844.97,460.52 L837.66,453.01 L847.94,455.03 L849.43,452.28 L839.15,450.26 L849.43,452.28 L850.92,449.53 L845.78,448.52 L850.92,449.53 Z"/>
<path d="M854.97,472.99 L839.23,492.41 L833.43,483.69 L843.16,487.56 L845.13,485.13 L835.40,481.26 L845.13,485.13 L847.10,482.70 L837.36,478.83 L847.10,482.70 Z"/>
<path d="M853.36,498.00 L839.34,518.70 L829.31,515.69 L839.34,518.70 L841.10,516.11 L831.06,513.10 L841.10,516.11 L842.85,513.53 L837.83,512.02 L842.85,513.53 Z"/>
<path d="M850.89,516.05 L843.91,540.05 L833.44,540.26 L843.91,540.05 L844.78,537.05 L834.31,537.26 L844.78,537.05 Z"/>
<path d="M851.79,535.67 L843.71,559.33 L833.24,559.06 L843.71,559.33 L844.72,556.37 L834.25,556.10 L844.72,556.37 Z"/>
<path d="M855.56,557.36 L839.64,576.64 L829.94,572.68 L839.64,576.64 L841.63,574.23 L836.78,572.25 L841.63,574.23 Z"/>
<path d="M843.25,596.90 L850.25,572.90 L860.72,572.70 L850.25,572.90 Z"/>
<path d="M846.09,610.88 L848.71,586.02 L858.98,583.96 L848.71,586.02 L848.38,589.13 L858.65,587.07 L848.38,589.13 L848.05,592.23 L858.33,590.17 L848.05,592.23 L847.73,595.34 L852.86,594.31 L847.73,595.34 Z"/>
<path d="M850.67,635.93 L843.53,611.97 L852.22,606.12 L843.53,611.97 L844.42,614.97 L853.12,609.12 L844.42,614.97 L845.32,617.96 L854.01,612.11 L845.32,617.96 L846.21,620.96 L854.90,615.11 L846.21,620.96 Z"/>
<path d="M854.47,653.01 L840.33,632.39 L846.80,624.16 L840.33,632.39 L842.10,634.97 L845.33,630.85 L842.10,634.97 Z"/>
</g>
<clipPath id="chodo"><rect x="876.5" y="49.4" width="220.0" height="187.7"/></clipPath>
<g clip-path="url(#chodo)">
<ellipse cx="959.4" cy="196.4" rx="23.78" ry="20.40" fill="none" stroke="#a0a0a0" stroke-width="1.0" stroke-dasharray="1.0 1.6"/>
<ellipse cx="959.4" cy="196.4" rx="47.56" ry="40.80" fill="none" stroke="#a0a0a0" stroke-width="1.0" stroke-dasharray="1.0 1.6"/>
<ellipse cx="959.4" cy="196.4" rx="71.34" ry="61.20" fill="none" stroke="#a0a0a0" stroke-width="1.0" stroke-dasharray="1.0 1.6"/>
<ellipse cx="959.4" cy="196.4" rx="95.12" ry="81.60" fill="none" stroke="#a0a0a0" stroke-width="1.0" stroke-dasharray="1.0 1.6"/>
<ellipse cx="959.4" cy="196.4" rx="118.90" ry="102.00" fill="none" stroke="#a0a0a0" stroke-width="1.0" stroke-dasharray="1.0 1.6"/>
<ellipse cx="959.4" cy="196.4" rx="142.68" ry="122.40" fill="none" stroke="#a0a0a0" stroke-width="1.0" stroke-dasharray="1.0 1.6"/>
<ellipse cx="959.4" cy="196.4" rx="166.46" ry="142.80" fill="none" stroke="#a0a0a0" stroke-width="1.0" stroke-dasharray="1.0 1.6"/>
<ellipse cx="959.4" cy="196.4" rx="190.24" ry="163.20" fill="none" stroke="#a0a0a0" stroke-width="1.0" stroke-dasharray="1.0 1.6"/>
<ellipse cx="959.4" cy="196.4" rx="214.02" ry="183.60" fill="none" stroke="#a0a0a0" stroke-width="1.0" stroke-dasharray="1.0 1.6"/>
<ellipse cx="959.4" cy="196.4" rx="237.80" ry="204.00" fill="none" stroke="#a0a0a0" stroke-width="1.0" stroke-dasharray="1.0 1.6"/>
<line x1="876.5" y1="196.4" x2="1096.5" y2="196.4" stroke="#000" stroke-width="1.0"/>
<line x1="959.4" y1="49.4" x2="959.4" y2="237.1" stroke="#000" stroke-width="1.0"/>
<path d="M970.60,210.60 L973.50,216.00 L976.30,224.30 L975.00,230.50 L970.50,234.80 L965.80,235.80 L961.50,235.20 L957.80,233.90 L953.50,228.00 L950.60,218.70 L954.00,210.00 L960.20,197.80" fill="none" stroke="#ff0000" stroke-width="2.1" stroke-linejoin="round"/>
<path d="M967.40,187.40 L968.20,183.00 L967.80,178.50" fill="none" stroke="#ff0000" stroke-width="2.1" stroke-linejoin="round"/>
<path d="M970.00,177.00 L973.30,176.10 L985.00,166.70 L1003.70,145.20 L1011.20,127.40 L1016.80,108.70 L1021.10,94.10 L1018.70,87.10" fill="none" stroke="#008000" stroke-width="2.1" stroke-linejoin="round"/>
<path d="M1011.20,80.20 L1004.60,78.30 L999.90,78.70 L989.10,84.70 L972.20,75.90 L967.70,63.70" fill="none" stroke="#b030b8" stroke-width="2.1" stroke-linejoin="round"/>
<path d="M1011.20,140.90 L1012.70,92.80 L978.40,51.60 L962.50,51.60 L961.50,52.50" fill="none" stroke="#0000ff" stroke-width="2.1" stroke-linejoin="round"/>
</g>
<text x="935.62" y="214.10" font-family='"Liberation Sans", sans-serif' font-size="11.77" fill="#808080" text-anchor="middle" textLength="14.14" lengthAdjust="spacingAndGlyphs" >20</text>
<text x="911.84" y="214.10" font-family='"Liberation Sans", sans-serif' font-size="11.77" fill="#808080" text-anchor="middle" textLength="14.14" lengthAdjust="spacingAndGlyphs" >40</text>
<text x="888.06" y="214.10" font-family='"Liberation Sans", sans-serif' font-size="11.77" fill="#808080" text-anchor="middle" textLength="14.14" lengthAdjust="spacingAndGlyphs" >60</text>
<text x="983.18" y="214.10" font-family='"Liberation Sans", sans-serif' font-size="11.77" fill="#808080" text-anchor="middle" textLength="14.14" lengthAdjust="spacingAndGlyphs" >20</text>
<text x="1006.96" y="214.10" font-family='"Liberation Sans", sans-serif' font-size="11.77" fill="#808080" text-anchor="middle" textLength="14.14" lengthAdjust="spacingAndGlyphs" >40</text>
<text x="1030.74" y="214.10" font-family='"Liberation Sans", sans-serif' font-size="11.77" fill="#808080" text-anchor="middle" textLength="14.14" lengthAdjust="spacingAndGlyphs" >60</text>
<text x="1054.52" y="214.10" font-family='"Liberation Sans", sans-serif' font-size="11.77" fill="#808080" text-anchor="middle" textLength="14.14" lengthAdjust="spacingAndGlyphs" >80</text>
<text x="1078.30" y="214.10" font-family='"Liberation Sans", sans-serif' font-size="11.77" fill="#808080" text-anchor="middle" textLength="21.21" lengthAdjust="spacingAndGlyphs" >100</text>
<ellipse cx="955.7" cy="188.2" rx="8.6" ry="7.4" fill="none" stroke="#000" stroke-width="1.2"/>
<text x="956.3" y="191.9" font-family='"Liberation Sans", sans-serif' font-size="10.2" text-anchor="middle" textLength="9.8" lengthAdjust="spacingAndGlyphs">LM</text>
<ellipse cx="989.6" cy="197.0" rx="9.3" ry="7.4" fill="none" stroke="#000" stroke-width="1.2"/>
<text x="990.1" y="199.9" font-family='"Liberation Sans", sans-serif' font-size="10.2" text-anchor="middle" textLength="10.9" lengthAdjust="spacingAndGlyphs">RM</text>
<text x="962.00" y="239.00" font-family='"Liberation Sans", sans-serif' font-size="11.77" fill="#000" text-anchor="middle" textLength="7.07" lengthAdjust="spacingAndGlyphs" >1</text>
<text x="963.60" y="195.80" font-family='"Liberation Sans", sans-serif' font-size="11.77" fill="#000" text-anchor="middle" textLength="7.07" lengthAdjust="spacingAndGlyphs" >2</text>
<text x="966.30" y="177.30" font-family='"Liberation Sans", sans-serif' font-size="11.77" fill="#000" text-anchor="middle" textLength="7.07" lengthAdjust="spacingAndGlyphs" >3</text>
<text x="1014.90" y="87.00" font-family='"Liberation Sans", sans-serif' font-size="11.77" fill="#000" text-anchor="middle" textLength="7.07" lengthAdjust="spacingAndGlyphs" >6</text>
<text x="965.30" y="62.50" font-family='"Liberation Sans", sans-serif' font-size="11.77" fill="#000" text-anchor="middle" textLength="7.07" lengthAdjust="spacingAndGlyphs" >9</text>
<rect x="876.5" y="49.4" width="220.0" height="187.7" fill="none" stroke="#000" stroke-width="1.1"/>
<text x="986.00" y="251.20" font-family='"Liberation Sans", sans-serif' font-size="11.77" fill="#000" text-anchor="middle" textLength="204.90" lengthAdjust="spacingAndGlyphs" >Hodograph (wind in kt, height in km)</text>
<text x="876.90" y="285.60" font-family='"Liberation Mono", monospace' font-size="15.37" fill="#000" textLength="83.62" lengthAdjust="spacingAndGlyphs" >SRH 0-1km:</text>
<text x="1027.56" y="285.60" font-family='"Liberation Mono", monospace' font-size="15.37" fill="#000" textLength="8.36" lengthAdjust="spacingAndGlyphs" >2</text>
<text x="1044.30" y="285.60" font-family='"Liberation Sans", sans-serif' font-size="14.72" fill="#000" font-style="italic" textLength="13.53" lengthAdjust="spacingAndGlyphs" >m</text>
<text x="1058.50" y="280.60" font-family='"Liberation Sans", sans-serif' font-size="10.49" fill="#000" textLength="6.30" lengthAdjust="spacingAndGlyphs" >2</text>
<text x="1065.30" y="285.60" font-family='"Liberation Sans", sans-serif' font-size="14.72" fill="#000" font-style="italic" textLength="7.24" lengthAdjust="spacingAndGlyphs" >s</text>
<text x="1072.90" y="280.60" font-family='"Liberation Sans", sans-serif' font-size="10.49" fill="#000" textLength="14.59" lengthAdjust="spacingAndGlyphs" >−2</text>
<text x="876.90" y="302.60" font-family='"Liberation Mono", monospace' font-size="15.37" fill="#9c27b0" textLength="83.62" lengthAdjust="spacingAndGlyphs" >SRH 0-3km:</text>
<text x="1010.82" y="302.60" font-family='"Liberation Mono", monospace' font-size="15.37" fill="#9c27b0" textLength="25.09" lengthAdjust="spacingAndGlyphs" >477</text>
<text x="1044.30" y="302.60" font-family='"Liberation Sans", sans-serif' font-size="14.72" fill="#9c27b0" font-style="italic" textLength="13.53" lengthAdjust="spacingAndGlyphs" >m</text>
<text x="1058.50" y="297.60" font-family='"Liberation Sans", sans-serif' font-size="10.49" fill="#9c27b0" textLength="6.30" lengthAdjust="spacingAndGlyphs" >2</text>
<text x="1065.30" y="302.60" font-family='"Liberation Sans", sans-serif' font-size="14.72" fill="#9c27b0" font-style="italic" textLength="7.24" lengthAdjust="spacingAndGlyphs" >s</text>
<text x="1072.90" y="297.60" font-family='"Liberation Sans", sans-serif' font-size="10.49" fill="#9c27b0" textLength="14.59" lengthAdjust="spacingAndGlyphs" >−2</text>
<text x="876.90" y="321.70" font-family='"Liberation Mono", monospace' font-size="15.37" fill="#000" textLength="58.54" lengthAdjust="spacingAndGlyphs" >SBCAPE:</text>
<text x="1027.56" y="321.70" font-family='"Liberation Mono", monospace' font-size="15.37" fill="#000" textLength="8.36" lengthAdjust="spacingAndGlyphs" >0</text>
<text x="1044.30" y="321.70" font-family='"Liberation Mono", monospace' font-size="15.37" fill="#000" textLength="33.45" lengthAdjust="spacingAndGlyphs" >J/kg</text>
<text x="876.90" y="338.50" font-family='"Liberation Mono", monospace' font-size="15.37" fill="#000" textLength="58.54" lengthAdjust="spacingAndGlyphs" >MLCAPE:</text>
<text x="1027.56" y="338.50" font-family='"Liberation Mono", monospace' font-size="15.37" fill="#000" textLength="8.36" lengthAdjust="spacingAndGlyphs" >0</text>
<text x="1044.30" y="338.50" font-family='"Liberation Mono", monospace' font-size="15.37" fill="#000" textLength="33.45" lengthAdjust="spacingAndGlyphs" >J/kg</text>
<text x="876.90" y="356.60" font-family='"Liberation Mono", monospace' font-size="15.37" fill="#000" textLength="58.54" lengthAdjust="spacingAndGlyphs" >MUCAPE:</text>
<text x="1027.56" y="356.60" font-family='"Liberation Mono", monospace' font-size="15.37" fill="#000" textLength="8.36" lengthAdjust="spacingAndGlyphs" >0</text>
<text x="1044.30" y="356.60" font-family='"Liberation Mono", monospace' font-size="15.37" fill="#000" textLength="33.45" lengthAdjust="spacingAndGlyphs" >J/kg</text>
<text x="876.90" y="373.30" font-family='"Liberation Mono", monospace' font-size="15.37" fill="#000" textLength="50.17" lengthAdjust="spacingAndGlyphs" >SBCIN:</text>
<text x="1027.56" y="373.30" font-family='"Liberation Mono", monospace' font-size="15.37" fill="#000" textLength="8.36" lengthAdjust="spacingAndGlyphs" >0</text>
<text x="1044.30" y="373.30" font-family='"Liberation Mono", monospace' font-size="15.37" fill="#000" textLength="33.45" lengthAdjust="spacingAndGlyphs" >J/kg</text>
<text x="876.90" y="391.10" font-family='"Liberation Mono", monospace' font-size="15.37" fill="#000" textLength="50.17" lengthAdjust="spacingAndGlyphs" >MLCIN:</text>
<text x="1027.56" y="391.10" font-family='"Liberation Mono", monospace' font-size="15.37" fill="#000" textLength="8.36" lengthAdjust="spacingAndGlyphs" >0</text>
<text x="1044.30" y="391.10" font-family='"Liberation Mono", monospace' font-size="15.37" fill="#000" textLength="33.45" lengthAdjust="spacingAndGlyphs" >J/kg</text>
<text x="876.90" y="408.40" font-family='"Liberation Mono", monospace' font-size="15.37" fill="#000" textLength="50.17" lengthAdjust="spacingAndGlyphs" >DCAPE:</text>
<text x="1027.56" y="408.40" font-family='"Liberation Mono", monospace' font-size="15.37" fill="#000" textLength="8.36" lengthAdjust="spacingAndGlyphs" >0</text>
<text x="1044.30" y="408.40" font-family='"Liberation Mono", monospace' font-size="15.37" fill="#000" textLength="33.45" lengthAdjust="spacingAndGlyphs" >J/kg</text>
<text x="876.90" y="426.20" font-family='"Liberation Mono", monospace' font-size="15.37" fill="#a52a2a" textLength="117.07" lengthAdjust="spacingAndGlyphs" >SHR 200-850mb:</text>
<text x="1019.19" y="426.20" font-family='"Liberation Mono", monospace' font-size="15.37" fill="#a52a2a" textLength="16.72" lengthAdjust="spacingAndGlyphs" >98</text>
<text x="1044.30" y="426.20" font-family='"Liberation Mono", monospace' font-size="15.37" fill="#a52a2a" textLength="16.72" lengthAdjust="spacingAndGlyphs" >kt</text>
<text x="876.90" y="443.20" font-family='"Liberation Mono", monospace' font-size="15.37" fill="#000" textLength="108.71" lengthAdjust="spacingAndGlyphs" >RH 300-850mb:</text>
<text x="1019.19" y="443.20" font-family='"Liberation Mono", monospace' font-size="15.37" fill="#000" textLength="16.72" lengthAdjust="spacingAndGlyphs" >57</text>
<text x="1044.30" y="443.20" font-family='"Liberation Mono", monospace' font-size="15.37" fill="#000" textLength="8.36" lengthAdjust="spacingAndGlyphs" >%</text>
<text x="876.90" y="461.00" font-family='"Liberation Mono", monospace' font-size="15.37" fill="#000" textLength="41.81" lengthAdjust="spacingAndGlyphs" >PWAT:</text>
<text x="1002.45" y="461.00" font-family='"Liberation Mono", monospace' font-size="15.37" fill="#000" textLength="33.45" lengthAdjust="spacingAndGlyphs" >0.32</text>
<text x="1044.30" y="461.00" font-family='"Liberation Mono", monospace' font-size="15.37" fill="#000" textLength="16.72" lengthAdjust="spacingAndGlyphs" >in</text>
<clipPath id="cthe"><rect x="892.4" y="500.6" width="203.80000000000007" height="164.69999999999993"/></clipPath>
<path clip-path="url(#cthe)" d="M1082.00,500.60 L1070.30,505.00 L1061.50,510.90 L1054.10,521.20 L1042.40,538.20 L1015.90,549.10 L1007.00,555.00 L1004.10,560.90 L1002.00,577.00 L995.30,587.40 L982.00,598.20 L946.80,614.70 L942.40,619.70 L942.40,633.00 L943.80,641.80 L940.30,646.20" fill="none" stroke="#3498b8" stroke-width="2.9" stroke-linejoin="round"/>
<path d="M892.4,522.00 H897.3 M892.4,566.10 H897.3 M892.4,610.20 H897.3 M892.4,654.30 H897.3 M946.20,665.3 V660.4 M1005.75,665.3 V660.4 M1065.30,665.3 V660.4" stroke="#000" stroke-width="1.1"/>
<text x="922.40" y="526.00" font-family='"Liberation Sans", sans-serif' font-size="11.77" fill="#000" text-anchor="end" textLength="21.21" lengthAdjust="spacingAndGlyphs" >400</text>
<text x="922.40" y="570.10" font-family='"Liberation Sans", sans-serif' font-size="11.77" fill="#000" text-anchor="end" textLength="21.21" lengthAdjust="spacingAndGlyphs" >600</text>
<text x="922.40" y="614.20" font-family='"Liberation Sans", sans-serif' font-size="11.77" fill="#000" text-anchor="end" textLength="21.21" lengthAdjust="spacingAndGlyphs" >800</text>
<text x="947.00" y="656.10" font-family='"Liberation Sans", sans-serif' font-size="11.02" fill="#000" text-anchor="middle" textLength="19.85" lengthAdjust="spacingAndGlyphs" >280</text>
<text x="1006.55" y="656.10" font-family='"Liberation Sans", sans-serif' font-size="11.02" fill="#000" text-anchor="middle" textLength="19.85" lengthAdjust="spacingAndGlyphs" >300</text>
<text x="1066.10" y="656.10" font-family='"Liberation Sans", sans-serif' font-size="11.02" fill="#000" text-anchor="middle" textLength="19.85" lengthAdjust="spacingAndGlyphs" >320</text>
<rect x="892.4" y="500.6" width="203.80000000000007" height="164.69999999999993" fill="none" stroke="#000" stroke-width="1.1"/>
<text x="993.40" y="677.60" font-family='"Liberation Sans", sans-serif' font-size="11.77" fill="#000" text-anchor="middle" textLength="176.82" lengthAdjust="spacingAndGlyphs" >Equivalent Pot. Temperature (K)</text>
<text x="884.60" y="582.80" font-family='"Liberation Sans", sans-serif' font-size="11.77" fill="#000" text-anchor="middle" textLength="79.69" lengthAdjust="spacingAndGlyphs" transform="rotate(-90 884.60 582.80)" >Pressure (hPa)</text>
<text x="987.00" y="35.80" font-family='"Liberation Sans", sans-serif' font-size="16.00" fill="#808080" font-weight="bold" text-anchor="middle" textLength="192.78" lengthAdjust="spacingAndGlyphs" >TROPICALTIDBITS.COM</text>
</svg>
</body></html>
